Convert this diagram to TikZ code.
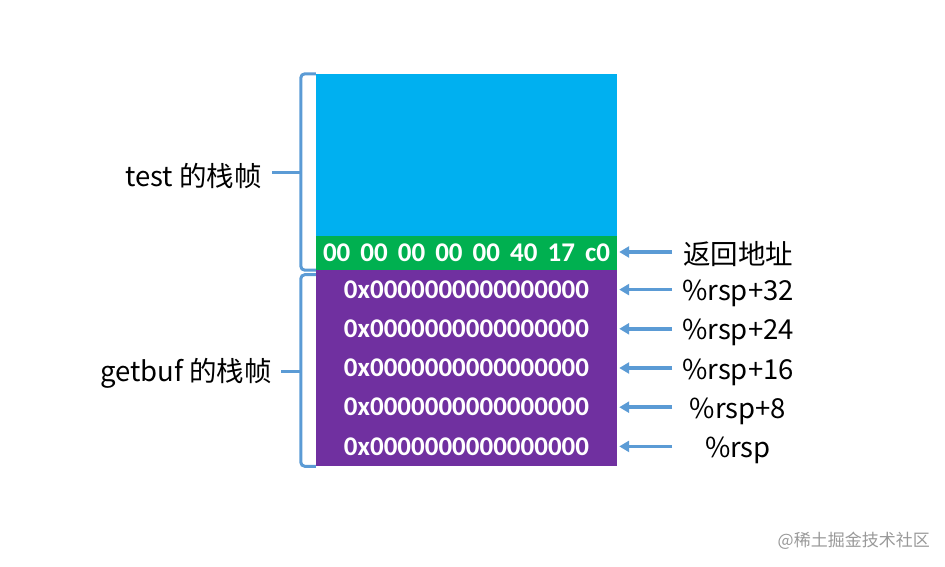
\documentclass[tikz,border=0pt]{standalone}
\usepackage{fontspec}
\setmainfont{Noto Sans CJK SC}
\newfontfamily\cellfont{Carlito}
\usepackage{tikz}
\usetikzlibrary{arrows.meta}

\definecolor{frameblue}{HTML}{00B0F0}
\definecolor{retgreen}{HTML}{00B050}
\definecolor{bufpurple}{HTML}{7030A0}
\definecolor{linkblue}{HTML}{5B9BD5}

\tikzset{
  cell/.style={draw=none, inner sep=0pt, minimum width=301pt, text=white,
    font=\cellfont\bfseries\fontsize{27}{29}\selectfont},
  lbl/.style={inner sep=0pt, font=\fontsize{27.5}{31}\selectfont},
  ptr/.style={linkblue, line width=3.5pt, -{Triangle[length=10pt,width=11pt]}, shorten >=2pt},
  brace/.style={linkblue, line width=3pt, rounded corners=4pt}
}

\begin{document}
\begin{tikzpicture}[x=1pt, y=-1pt]
  \useasboundingbox (0,0) rectangle (945,567);

  % test frame (blue) and return address (green)
  \node[cell, fill=frameblue, minimum height=162pt] (testfr) at (466.5,155) {};
  \node[cell, fill=retgreen, minimum height=34pt] (ret) at (466.5,253)
    {\makebox[287pt][s]{00 00 00 00 00 40 17 c0}};

  % getbuf frame (purple rows)
  \foreach \i/\y in {0/289.6, 1/328.8, 2/368.0, 3/407.2, 4/446.4}
    \node[cell, fill=bufpurple, minimum height=39.4pt] (r\i) at (466.5,\y) {\raisebox{-2pt}{0x0000000000000000}};

  % pointers on the right
  \node[lbl] (retlbl) at (738,254) {返回地址};
  \coordinate (aret) at (672,252);
  \draw[ptr] (aret) -- (ret.east |- aret);
  \foreach \i/\t in {0/\%rsp+32, 1/\%rsp+24, 2/\%rsp+16, 3/\%rsp+8, 4/\%rsp} {
    \node[lbl, yshift=-4pt] (l\i) at (738, 0 |- r\i) {\t};
    \coordinate (a\i) at (672, 0 |- r\i);
    \draw[ptr] (a\i) -- (r\i.east |- a\i);
  }

  % braces on the left
  \node[lbl, anchor=east] (testlbl) at (262,176) {test 的栈帧};
  \node[lbl, anchor=east] (buflbl) at (272,373) {getbuf 的栈帧};
  \coordinate (b1) at (301,172);
  \coordinate (b2) at (301,371);
  \draw[brace] (testfr.north west) -- ++(-15,0) |- (ret.south west);
  \draw[brace] (r0.north west) ++(0,5) -- ++(-15,0) |- (r4.south west);
  \draw[brace] (b1) -- (272,172);
  \draw[brace] (b2) -- (281,371);

  % watermark
  \node[text=black!40, inner sep=0pt, font=\fontsize{17}{20}\selectfont, anchor=east] (wm) at (930,541) {@稀土掘金技术社区};
\end{tikzpicture}
\end{document}
